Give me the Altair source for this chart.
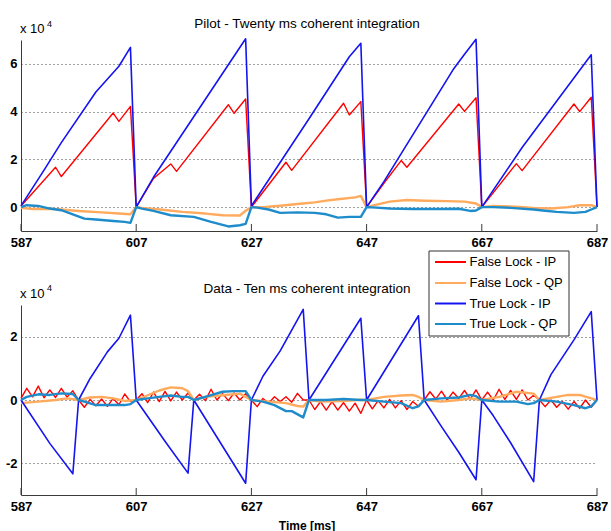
import altair as alt
import pandas as pd

# ---------------------------------------------------------------- data
x_ticks = [587, 607, 627, 647, 667, 687]
series_names = ["False Lock - IP", "False Lock - QP", "True Lock - IP", "True Lock - QP"]
series_colors = ["#FF0000", "#FFAA5C", "#1414F0", "#1E8CCB"]
series_widths = [1.4, 2.4, 1.6, 2.4]

pilot_yticks = [0, 2, 4, 6]
data_yticks = [-2, 0, 2]

# Pilot channel, 20 ms coherent integration (values in units of 1e4)
pilot_false_ip_t = [587, 593, 594, 603, 604, 606, 607,
                    610, 613, 614, 623, 624, 626, 627,
                    633, 634, 643, 644, 646, 647,
                    650, 653, 654, 663, 664, 666, 667,
                    673, 674, 683, 684, 686, 687]
pilot_false_ip_v = [0.05, 1.67, 1.28, 3.94, 3.59, 4.22, 0.0,
                    1.2, 1.81, 1.50, 4.29, 3.93, 4.53, 0.0,
                    1.88, 1.54, 4.35, 3.86, 4.42, 0.0,
                    1.0, 1.95, 1.67, 4.32, 4.01, 4.58, 0.0,
                    1.82, 1.53, 4.32, 4.0, 4.6, 0.0]

pilot_false_qp_t = [587, 589, 593, 597, 601, 604, 606, 607,
                    608, 612, 615, 619, 622, 625, 626, 627,
                    629, 632, 635, 638, 640, 642, 645, 646, 647,
                    648, 651, 654, 657, 661, 664, 666, 667,
                    669, 673, 676, 679, 682, 684, 686, 687]
pilot_false_qp_v = [-0.03, -0.08, -0.08, -0.16, -0.22, -0.27, -0.3, 0.0,
                    -0.03, -0.12, -0.2, -0.27, -0.34, -0.35, -0.15, 0.0,
                    0.0, 0.06, 0.13, 0.2, 0.27, 0.33, 0.41, 0.47, 0.0,
                    0.06, 0.23, 0.3, 0.27, 0.25, 0.23, 0.15, 0.0,
                    0.05, 0.02, -0.03, -0.06, 0.0, 0.08, 0.08, 0.0]

pilot_true_ip_t = [587, 591, 594, 600, 604, 606, 607,
                   610, 626, 627,
                   637, 644, 646, 647,
                   650, 662, 664, 666, 667,
                   674, 686, 687]
pilot_true_ip_v = [0.05, 1.55, 2.7, 4.82, 5.9, 6.69, 0.0,
                   1.25, 7.05, 0.05,
                   3.7, 6.3, 6.86, 0.0,
                   1.07, 5.75, 6.4, 7.03, 0.0,
                   2.5, 6.38, 0.0]

pilot_true_qp_t = [587, 588, 590, 592, 594, 596, 598, 600, 603, 605, 606, 607,
                   608, 610, 613, 617, 620, 623, 625, 626, 627,
                   628, 630, 632, 635, 638, 640, 642, 644, 646, 647,
                   648, 651, 655, 660, 663, 665, 666, 667,
                   669, 672, 676, 678, 680, 683, 685, 686, 687]
pilot_true_qp_v = [0.0, 0.08, 0.05, -0.06, -0.13, -0.3, -0.48, -0.52, -0.58, -0.62, -0.66, 0.0,
                   -0.06, -0.16, -0.34, -0.41, -0.62, -0.81, -0.76, -0.7, 0.0,
                   -0.02, -0.1, -0.24, -0.22, -0.24, -0.3, -0.44, -0.41, -0.41, 0.0,
                   -0.01, -0.06, -0.08, -0.08, -0.07, -0.16, -0.14, 0.0,
                   0.0, -0.03, -0.1, -0.15, -0.2, -0.24, -0.2, -0.1, 0.0]

# Data channel, 10 ms coherent integration (values in units of 1e4)
data_false_ip_t = list(range(587, 688))
data_false_ip_v = [
    0.05, 0.37, 0.1, 0.44, 0.07, 0.32, 0.08, 0.37, 0.09, 0.29,
    0.0, -0.23, 0.02, -0.18, 0.03, -0.2, 0.05, -0.15, 0.19, -0.05,
    0.0, 0.2, -0.08, 0.25, -0.05, 0.27, -0.03, 0.25, 0.0, 0.22,
    0.0, 0.18, -0.02, 0.34, 0.0, 0.2, -0.02, 0.22, 0.0, 0.2,
    0.0, -0.21, 0.05, -0.1, 0.1, -0.05, 0.1, -0.07, 0.21, 0.0,
    0.0, -0.3, -0.05, -0.32, -0.05, -0.32, -0.08, -0.35, -0.1, -0.42,
    0.0, -0.28, -0.02, -0.25, 0.02, -0.25, -0.02, -0.3, -0.05, -0.2,
    0.0, 0.26, 0.03, 0.28, 0.0, 0.25, 0.05, 0.3, 0.03, 0.32,
    0.0, 0.25, 0.0, 0.34, 0.02, 0.3, 0.02, 0.32, 0.0, 0.15,
    0.0, -0.21, 0.0, -0.23, -0.05, -0.29, -0.05, -0.26, 0.0, -0.23,
    0.0]

data_false_qp_t = [587, 590, 593, 595, 597, 599, 601, 603, 605, 607,
                   609, 611, 613, 615, 616, 617, 619, 622, 625, 627,
                   630, 633, 635, 636, 637, 639, 643, 646, 647,
                   650, 653, 655, 656, 657, 660, 663, 665, 667,
                   670, 673, 676, 677, 680, 682, 684, 686, 687]
data_false_qp_v = [-0.1, -0.05, 0.0, 0.05, 0.0, 0.08, 0.1, 0.05, -0.03, 0.0,
                   0.15, 0.3, 0.4, 0.37, 0.28, 0.0, 0.1, 0.15, 0.2, 0.0,
                   -0.05, -0.1, -0.19, -0.21, 0.0, -0.05, -0.03, 0.01, 0.0,
                   0.1, 0.14, 0.16, 0.1, 0.0, -0.05, 0.0, 0.05, 0.0,
                   0.1, 0.26, 0.2, 0.0, 0.1, 0.16, 0.16, 0.05, 0.0]

data_true_ip_t = [587, 592, 596, 597, 599, 602, 604, 606, 607,
                  612, 616, 617, 626, 627,
                  629, 632, 636, 637, 646, 647, 656, 657,
                  660, 663, 666, 667,
                  669, 672, 676, 677,
                  679, 683, 686, 687]
data_true_ip_v = [0.0, -1.37, -2.33, 0.0, 0.68, 1.52, 1.95, 2.68, 0.0,
                  -1.3, -2.31, 0.0, -2.63, 0.0,
                  0.75, 1.55, 2.86, 0.0, 2.58, 0.0, 2.66, 0.0,
                  -0.84, -1.65, -2.52, 0.0,
                  -0.5, -1.35, -2.58, 0.0,
                  0.8, 1.9, 2.79, 0.0]

data_true_qp_t = [587, 588, 590, 592, 594, 596, 597, 598, 600, 603, 605, 606, 607,
                  609, 611, 613, 615, 616, 617, 619, 622, 624, 626, 627,
                  629, 631, 633, 634, 636, 637, 640, 643, 646, 647,
                  650, 653, 655, 656, 657, 660, 663, 665, 666, 667,
                  670, 673, 675, 676, 677, 680, 683, 685, 686, 687]
data_true_qp_v = [0.0, 0.1, 0.18, 0.16, 0.21, 0.19, 0.0, -0.05, -0.16, -0.16, -0.16, -0.13, 0.0,
                  0.05, 0.1, 0.14, 0.1, 0.1, 0.0, 0.1, 0.26, 0.28, 0.28, 0.0,
                  -0.05, -0.16, -0.35, -0.35, -0.55, 0.0, 0.0, 0.03, 0.0, 0.0,
                  -0.05, -0.1, -0.26, -0.2, 0.0, 0.05, 0.08, 0.16, 0.12, 0.0,
                  -0.05, -0.05, -0.13, -0.1, 0.0, -0.05, -0.16, -0.26, -0.2, 0.0]

pilot_series = [(pilot_false_ip_t, pilot_false_ip_v), (pilot_false_qp_t, pilot_false_qp_v),
                (pilot_true_ip_t, pilot_true_ip_v), (pilot_true_qp_t, pilot_true_qp_v)]
data_series = [(data_false_ip_t, data_false_ip_v), (data_false_qp_t, data_false_qp_v),
               (data_true_ip_t, data_true_ip_v), (data_true_qp_t, data_true_qp_v)]

# ---------------------------------------------------------------- styling
FONT = "Liberation Sans"
AXIS_COLOR = "#3a3a3a"
PLOT_W = 576


def x_enc():
    return alt.X("t:Q",
                 scale=alt.Scale(domain=[587, 687], nice=False, zero=False),
                 axis=alt.Axis(values=x_ticks, grid=False, ticks=False, labelPadding=5,
                               title=None, labelFlush=False, labelOverlap=False,
                               labelFont=FONT, labelFontSize=13, labelFontWeight="bold",
                               labelColor="black", domainColor=AXIS_COLOR))


def y_enc(dom, ticks):
    return alt.Y("v:Q",
                 scale=alt.Scale(domain=dom, nice=False, zero=False),
                 axis=alt.Axis(values=ticks, grid=True, ticks=False, labelPadding=4,
                               title=None, labelExpr="datum.value + ''",
                               labelFont=FONT, labelFontSize=13, labelFontWeight="bold",
                               labelColor="black", domainColor=AXIS_COLOR,
                               gridDash=[1, 3], gridColor="#222", gridOpacity=0.85))


def text_layer(txt, x, y, size, weight="normal", align="left", baseline="alphabetic"):
    return alt.Chart(pd.DataFrame({"txt": [txt]})).mark_text(
        font=FONT, fontSize=size, fontWeight=weight, align=align,
        baseline=baseline, color="black"
    ).encode(text="txt:N", x=alt.value(x), y=alt.value(y))


def panel(series, dom, ticks, h, title_txt, sup_y):
    tick_marks = alt.Chart(pd.DataFrame({"t": x_ticks})).mark_rule(
        color=AXIS_COLOR, strokeWidth=1
    ).encode(x=x_enc(), y=alt.value(h - 7), y2=alt.value(h))
    layers = [tick_marks]
    for (t, v), color, width in zip(series, series_colors, series_widths):
        layers.append(
            alt.Chart(pd.DataFrame({"t": t, "v": v})).mark_line(
                color=color, strokeWidth=width, strokeJoin="round"
            ).encode(x=x_enc(), y=y_enc(dom, ticks))
        )
    layers.append(text_layer(title_txt, 286, -12, 13.5, align="center"))
    layers.append(text_layer("x 10", -1, -7, 13))
    layers.append(text_layer("4", 26, sup_y, 9))
    return layers


top_layers = panel(pilot_series, [-1, 7], pilot_yticks, 191,
                   "Pilot - Twenty ms coherent integration", -13)
bottom_layers = panel(data_series, [-3, 3], data_yticks, 190,
                      "Data - Ten ms coherent integration", -14)

bottom_layers.append(text_layer("Time [ms]", 286, 225, 12, weight="bold", align="center"))

# legend box drawn over the lower panel
legend_box = alt.Chart(pd.DataFrame({"k": [0]})).mark_rect(
    fill="white", stroke="#333", strokeWidth=1
).encode(x=alt.value(408), x2=alt.value(548), y=alt.value(-54), y2=alt.value(31))
bottom_layers.append(legend_box)
row_y = [-43, -22, -1.5, 19]
for name, color, ry in zip(series_names, series_colors, row_y):
    bottom_layers.append(
        alt.Chart(pd.DataFrame({"k": [0]})).mark_rule(color=color, strokeWidth=2).encode(
            x=alt.value(414), x2=alt.value(445), y=alt.value(ry), y2=alt.value(ry))
    )
    bottom_layers.append(text_layer(name, 448.5, ry, 13, baseline="middle"))

top = alt.layer(*top_layers).properties(width=PLOT_W, height=191)
bottom = alt.layer(*bottom_layers).properties(width=PLOT_W, height=190)

chart = alt.vconcat(top, bottom, spacing=74, bounds="flush").properties(
    padding={"left": 5, "top": 17, "right": 0, "bottom": 0},
    autosize=alt.AutoSizeParams(type="pad"),
    background="white",
).configure_view(stroke=None)

chart.save("out.html", embed_options={"renderer": "svg", "actions": False})
